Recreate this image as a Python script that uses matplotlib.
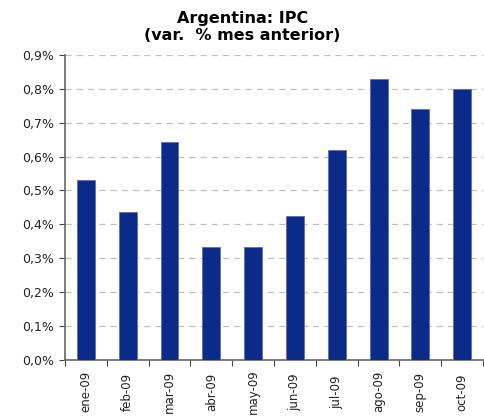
import matplotlib
matplotlib.use("Agg")
import matplotlib.pyplot as plt
import numpy as np

meses = ["ene-09", "feb-09", "mar-09", "abr-09", "may-09", "jun-09",
         "jul-09", "ago-09", "sep-09", "oct-09"]
ipc = [0.53, 0.435, 0.643, 0.333, 0.333, 0.425, 0.62, 0.83, 0.74, 0.80]
yticks = [0.0, 0.1, 0.2, 0.3, 0.4, 0.5, 0.6, 0.7, 0.8, 0.9]

fig = plt.figure(figsize=(4.85, 4.16), dpi=100)
ax = fig.add_axes([0.134, 0.135, 0.862, 0.733])

x = np.arange(len(meses))
ax.bar(x, ipc, width=0.43, color="#0c2a87", edgecolor="#5a6fb5", linewidth=0.6, zorder=3)

ax.set_xlim(-0.5, len(meses) - 0.5)
ax.set_ylim(0, 0.9)
ax.set_yticks(yticks)
ax.set_yticklabels([("%.1f%%" % v).replace(".", ",") for v in yticks], fontsize=9, color="#222222")

# ticks on category boundaries, labels centred below each bar
ax.set_xticks(np.arange(len(meses) + 1) - 0.5)
ax.set_xticklabels([])
ax.set_xticks(x, minor=True)
ax.set_xticklabels(meses, minor=True, rotation=90, fontsize=8.5, color="#222222", va="center")
ax.tick_params(axis="x", which="minor", length=0, pad=23)
ax.tick_params(axis="x", which="major", length=4, color="#444444", direction="out")
ax.tick_params(axis="y", length=4, color="#444444", direction="out", pad=4)

ax.yaxis.grid(True, linestyle=(0, (5, 4)), color="#c0c0c0", linewidth=0.9, zorder=0)
for s in ["top", "right"]:
    ax.spines[s].set_visible(False)
for s in ["left", "bottom"]:
    ax.spines[s].set_color("#666666")
    ax.spines[s].set_linewidth(1.2)

fig.suptitle("Argentina: IPC\n(var.  % mes anterior)", fontsize=11.5, fontweight="bold",
             y=0.974, va="top", linespacing=1.2)

fig.savefig("out.png", dpi=100)
